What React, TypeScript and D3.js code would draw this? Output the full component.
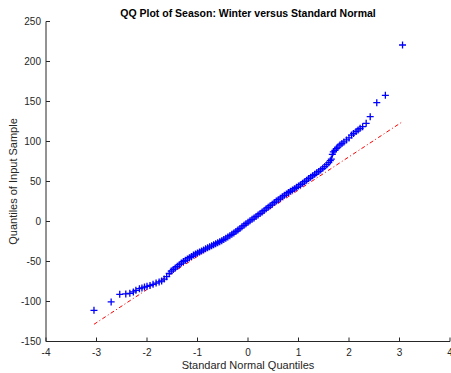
import React from "react";
import * as d3 from "d3";

// standard normal quantiles (x) and sorted sample values (y)
const normalQuantiles = [
  -3.05, -2.71, -2.54, -2.42, -2.34, -2.27, -2.22, -2.15, -2.1, -2.05, -2.0,
  -1.94, -1.88, -1.82, -1.76, -1.71, -1.66, -1.61, -1.56, -1.52,
  -1.48, -1.44, -1.4, -1.36, -1.32, -1.28, -1.24, -1.2, -1.16, -1.12, -1.08,
  -1.04, -1.0, -0.96, -0.92, -0.88, -0.84, -0.8, -0.76, -0.72, -0.68, -0.64,
  -0.6, -0.56, -0.52, -0.48, -0.44, -0.4, -0.36, -0.32, -0.28, -0.24, -0.2,
  -0.16, -0.12, -0.08, -0.04, 0.0, 0.04, 0.08, 0.12, 0.16, 0.2, 0.24, 0.28,
  0.32, 0.36, 0.4, 0.44, 0.48, 0.52, 0.56, 0.6, 0.64, 0.68, 0.72, 0.76, 0.8,
  0.84, 0.88, 0.92, 0.96, 1.0, 1.04, 1.08, 1.12, 1.16, 1.2, 1.24, 1.28, 1.32,
  1.36, 1.4, 1.44, 1.48, 1.52, 1.56, 1.6, 1.63, 1.65, 1.67, 1.69, 1.72, 1.75,
  1.78, 1.82, 1.86, 1.9, 1.95, 2.0, 2.05, 2.09, 2.14, 2.18, 2.22, 2.27, 2.34,
  2.42, 2.55, 2.72, 3.06,
];
const sampleQuantiles = [
  -111, -100.5, -91, -90.5, -89.8, -88, -86, -84, -83, -82, -81,
  -80, -78.5, -77, -75.5, -74.4, -72, -69, -65, -62,
  -60, -58, -56, -54, -52, -50, -48.5, -46.8, -45.2, -43.6, -42,
  -40.7, -39.4, -38.1, -36.8, -35.5, -34.2, -32.9, -31.6, -30.4, -29.1, -27.8,
  -26.5, -25.3, -24, -22.5, -20.9, -19.3, -17.7, -16, -14.4, -12.5, -10.6,
  -8.7, -6.7, -4.8, -2.8, -0.9, 0.9, 2.7, 4.5, 6.4, 8.2, 10, 12,
  13.9, 15.9, 17.8, 19.8, 21.7, 23.6, 25.5, 27.3, 29.1, 30.9, 32.7, 34.5, 36.2,
  37.8, 39.4, 41, 42.7, 44.3, 46, 47.9, 49.8, 51.7, 53.6, 55.4, 57.2, 59,
  60.8, 62.6, 64.5, 66.5, 68.7, 71, 73.5, 76, 78, 84, 87, 89, 91,
  93, 95.6, 97.5, 99.5, 102, 104.5, 108, 110, 112.5, 114.5, 116.5, 118.5, 122.7,
  131, 148.5, 157.7, 220.6,
];

// reference line end points (through the quartiles)
const refLineX = [-3.05, 3.06];
const refLineY = [-128.5, 124.8];

const xTicks = [-4, -3, -2, -1, 0, 1, 2, 3, 4];
const yTicks = [-150, -100, -50, 0, 50, 100, 150, 200, 250];

const W = 451;
const H = 373;
const margin = { top: 21.5, right: 1, bottom: 31.5, left: 46 };

export default function App() {
  const x = d3.scaleLinear().domain([-4, 4]).range([margin.left, W - margin.right]);
  const y = d3.scaleLinear().domain([-150, 250]).range([H - margin.bottom, margin.top]);

  const x0 = margin.left;
  const y0 = H - margin.bottom;
  const tick = 4;
  const textColor = "#262626";
  const font = "'Liberation Sans', Arial, Helvetica, sans-serif";

  const refLine = d3
    .line<number>()
    .x((d) => x(d))
    .y((_, i) => y(refLineY[i]));

  return (
    <svg
      width={W}
      height={H}
      style={{ position: "absolute", left: 0, top: 0, background: "#fff" }}
      fontFamily={font}
    >
      {/* reference line, under the markers */}
      <path
        d={refLine(refLineX) ?? ""}
        stroke="#ff0000"
        strokeWidth={1}
        fill="none"
        strokeDasharray="4,2.5,1,2.5"
      />

      {/* data markers */}
      <g stroke="#0000ff" strokeWidth={1.3} fill="none">
        {normalQuantiles.map((q, i) => (
          <path
            key={i}
            transform={`translate(${x(q)},${y(sampleQuantiles[i])})`}
            d="M-3.5,0H3.5M0,-3.5V3.5"
          />
        ))}
      </g>

      {/* axes */}
      <g stroke={textColor} strokeWidth={1} fill="none">
        <line x1={x0} x2={x0} y1={margin.top} y2={y0} />
        <line x1={x0} x2={W - margin.right} y1={y0} y2={y0} />
        {xTicks.map((t) => (
          <line key={"xt" + t} x1={x(t)} x2={x(t)} y1={y0} y2={y0 - tick} />
        ))}
        {yTicks.map((t) => (
          <line key={"yt" + t} x1={x0} x2={x0 + tick} y1={y(t)} y2={y(t)} />
        ))}
      </g>
      <g fill={textColor} fontSize={10}>
        {xTicks.map((t) => (
          <text key={"xl" + t} x={x(t)} y={y0 + 14} textAnchor="middle">
            {t}
          </text>
        ))}
        {yTicks.map((t) => (
          <text key={"yl" + t} x={x0 - 5} y={y(t) + 3.5} textAnchor="end">
            {t}
          </text>
        ))}
      </g>

      <text x={248} y={369} textAnchor="middle" fontSize={11} fill={textColor}>
        Standard Normal Quantiles
      </text>
      <text
        transform={`translate(17,${(margin.top + y0) / 2}) rotate(-90)`}
        textAnchor="middle"
        fontSize={11}
        fill={textColor}
      >
        Quantiles of Input Sample
      </text>
      <text x={248} y={17} textAnchor="middle" fontSize={10.5} fontWeight="bold" fill="#000">
        QQ Plot of Season: Winter versus Standard Normal
      </text>
    </svg>
  );
}
